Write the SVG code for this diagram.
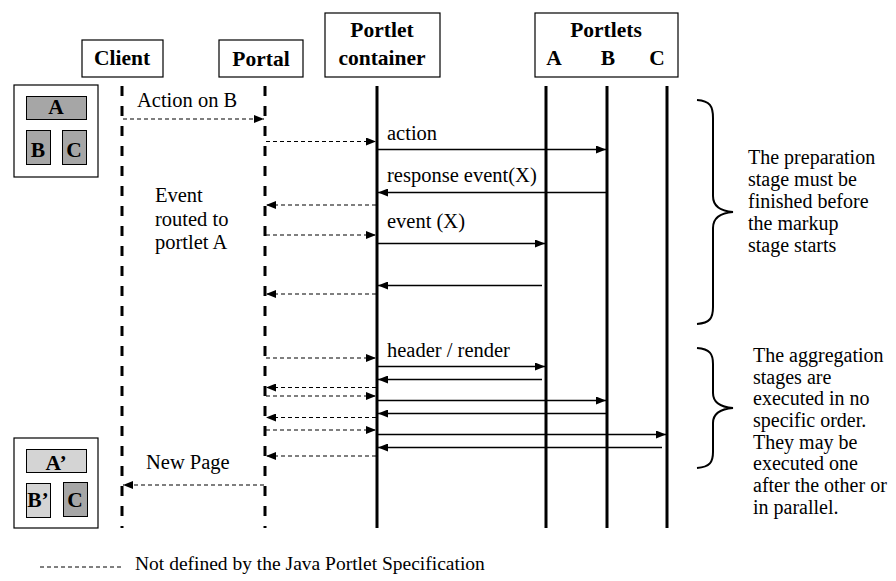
<svg xmlns="http://www.w3.org/2000/svg" width="896" height="581" viewBox="0 0 896 581" font-family="'Liberation Serif', 'Times New Roman', Times, serif">
<defs>
<marker id="ah" markerUnits="userSpaceOnUse" markerWidth="11" markerHeight="8" refX="10" refY="4" orient="auto">
<path d="M0,0 L10,4 L0,8 z" fill="#000"/>
</marker>
<style>
.t{font-size:21.5px;font-weight:bold;text-anchor:middle}
.l{font-size:20.5px}
.n{font-size:20px}
.f{font-size:19.5px}
.box{fill:#fff;stroke:#000;stroke-width:1.2}
.life{stroke:#000;stroke-width:3;fill:none}
.dl{stroke-dasharray:10 10}
.sol{stroke:#000;stroke-width:1.3;fill:none;marker-end:url(#ah)}
.das{stroke:#000;stroke-width:1.2;fill:none;stroke-dasharray:4 3;marker-end:url(#ah)}
.dk{fill:#a6a6a6;stroke:#000;stroke-width:1}
.lt{fill:#d4d4d4;stroke:#000;stroke-width:1}
.br{fill:none;stroke:#000;stroke-width:2}
</style>
</defs>
<rect width="896" height="581" fill="#fff"/>

<g id="client">
<rect class="box" x="82" y="40" width="81" height="37"/>
<text class="t" x="122" y="65">Client</text>
<line class="life dl" x1="122" y1="86" x2="122" y2="528"/>
</g>
<g id="portal">
<rect class="box" x="219" y="40" width="84" height="37"/>
<text class="t" x="261" y="66">Portal</text>
<line class="life dl" x1="265" y1="86" x2="265" y2="528"/>
</g>
<g id="container">
<rect class="box" x="325" y="13" width="115" height="64"/>
<text class="t" x="382" y="37">Portlet</text>
<text class="t" x="382" y="65">container</text>
<line class="life" x1="377" y1="86" x2="377" y2="528"/>
</g>
<g id="portlets">
<rect class="box" x="535" y="13" width="143" height="64"/>
<text class="t" x="606" y="37">Portlets</text>
<text class="t" x="554" y="65">A</text>
<text class="t" x="608" y="65">B</text>
<text class="t" x="657" y="65">C</text>
<line class="life" x1="546" y1="86" x2="546" y2="528"/>
<line class="life" x1="607" y1="86" x2="607" y2="528"/>
<line class="life" x1="667" y1="86" x2="667" y2="528"/>
</g>

<g id="screen-before">
<rect class="box" x="14" y="85" width="84" height="92"/>
<rect class="dk" x="26.5" y="96.5" width="60" height="23"/>
<rect class="dk" x="26.5" y="130.5" width="24" height="34"/>
<rect class="dk" x="62.5" y="130.5" width="24" height="34"/>
<text class="t" x="56" y="114">A</text>
<text class="t" x="38" y="157">B</text>
<text class="t" x="74" y="157">C</text>
</g>
<g id="screen-after">
<rect class="box" x="14" y="438" width="84" height="90"/>
<rect class="lt" x="26.5" y="449.5" width="60" height="23"/>
<rect class="lt" x="26.5" y="483.5" width="24" height="34"/>
<rect class="dk" x="63.5" y="482.5" width="24" height="34"/>
<text class="t" x="56" y="470">A’</text>
<text class="t" x="38" y="507">B’</text>
<text class="t" x="75" y="507">C</text>
</g>

<g id="connectors">
<line class="das" x1="123" y1="119" x2="264" y2="119"/>
<line class="das" x1="266" y1="141.5" x2="376" y2="141.5"/>
<line class="sol" x1="378" y1="149.5" x2="606" y2="149.5"/>
<line class="sol" x1="607" y1="192.5" x2="378" y2="192.5"/>
<line class="das" x1="376" y1="205" x2="266" y2="205"/>
<line class="das" x1="266" y1="235" x2="376" y2="235"/>
<line class="sol" x1="378" y1="243.5" x2="545" y2="243.5"/>
<line class="sol" x1="542" y1="285.5" x2="378" y2="285.5"/>
<line class="das" x1="376" y1="294" x2="266" y2="294"/>
<line class="das" x1="266" y1="358" x2="376" y2="358"/>
<line class="sol" x1="378" y1="366.5" x2="545" y2="366.5"/>
<line class="sol" x1="542" y1="379.5" x2="378" y2="379.5"/>
<line class="das" x1="376" y1="387.5" x2="266" y2="387.5"/>
<line class="das" x1="266" y1="396" x2="376" y2="396"/>
<line class="sol" x1="378" y1="400.5" x2="606" y2="400.5"/>
<line class="sol" x1="607" y1="413.5" x2="378" y2="413.5"/>
<line class="das" x1="376" y1="417.5" x2="266" y2="417.5"/>
<line class="das" x1="266" y1="430" x2="376" y2="430"/>
<line class="sol" x1="378" y1="434.5" x2="666" y2="434.5"/>
<line class="sol" x1="662" y1="447.5" x2="378" y2="447.5"/>
<line class="das" x1="376" y1="456" x2="266" y2="456"/>
<line class="das" x1="264" y1="485" x2="123" y2="485"/>
</g>

<g id="labels">
<text class="l" x="137" y="107">Action on B</text>
<text class="l" x="387" y="140">action</text>
<text class="l" x="387" y="182">response event(X)</text>
<text class="l" x="387" y="228">event (X)</text>
<text class="l" x="155" y="202">Event</text>
<text class="l" x="155" y="225.5">routed to</text>
<text class="l" x="155" y="249">portlet A</text>
<text class="l" x="387" y="357">header / render</text>
<text class="l" x="146" y="469">New Page</text>
</g>

<g id="preparation-note">
<path class="br" d="M697,100 C710,101 713,106 713,118 L713,196 C713,206 720,211 733,212 C720,213 713,218 713,228 L713,307 C713,318 710,323 697,324"/>
<text class="n" x="748" y="164">The preparation</text>
<text class="n" x="748" y="186">stage must be</text>
<text class="n" x="748" y="208">finished before</text>
<text class="n" x="748" y="230">the markup</text>
<text class="n" x="748" y="252">stage starts</text>
</g>
<g id="aggregation-note">
<path class="br" d="M697,348 C710,349 713,354 713,364 L713,393 C713,402 720,407 733,408 C720,409 713,414 713,423 L713,452 C713,462 710,467 697,468"/>
<text class="n" x="753" y="362">The aggregation</text>
<text class="n" x="753" y="383.5">stages are</text>
<text class="n" x="753" y="405">executed in no</text>
<text class="n" x="753" y="427">specific order.</text>
<text class="n" x="753" y="448.5">They may be</text>
<text class="n" x="753" y="470">executed one</text>
<text class="n" x="753" y="492">after the other or</text>
<text class="n" x="753" y="513.5">in parallel.</text>
</g>

<g id="legend">
<line x1="40" y1="567" x2="122" y2="567" stroke="#000" stroke-width="1" stroke-dasharray="4 3"/>
<text class="f" x="135" y="570">Not defined by the Java Portlet Specification</text>
</g>
</svg>
